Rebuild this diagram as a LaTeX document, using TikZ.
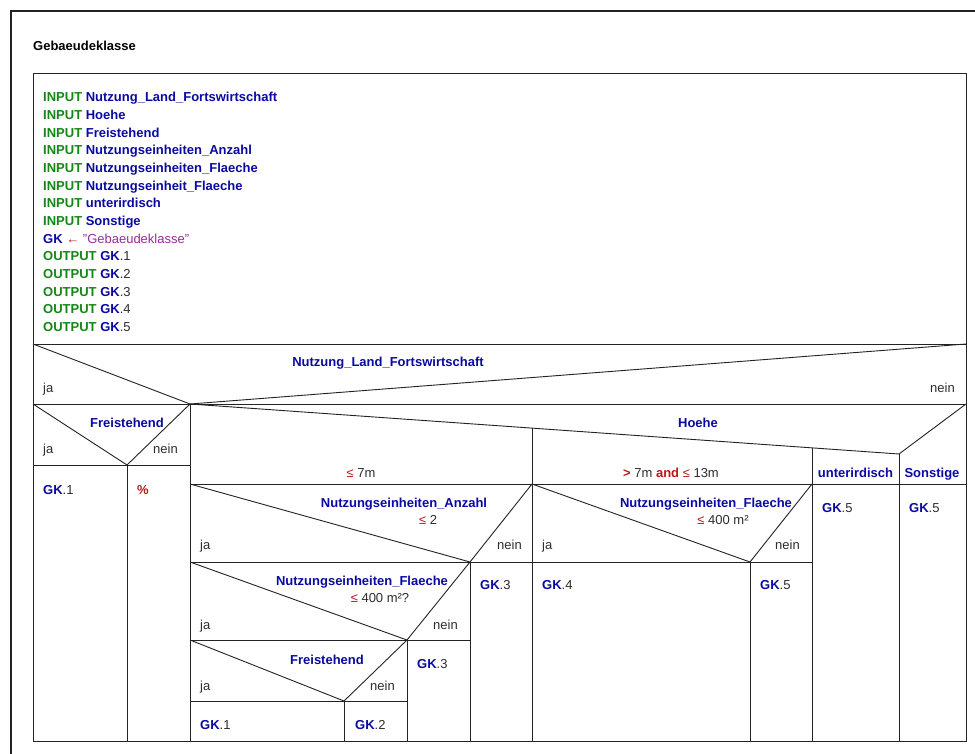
\documentclass[tikz,border=0pt]{standalone}
\usepackage{fontspec}
\setmainfont{Liberation Sans}
\definecolor{kw}{RGB}{20,135,20}
\definecolor{vr}{RGB}{10,10,160}
\definecolor{opc}{RGB}{185,25,25}
\definecolor{strc}{RGB}{150,45,150}
\definecolor{fg}{RGB}{45,45,45}
\definecolor{ln}{RGB}{35,35,35}
\newcommand{\mykw}[1]{{\bfseries\color{kw}#1}}
\newcommand{\myvar}[1]{{\bfseries\color{vr}#1}}
\newcommand{\myop}[1]{{\bfseries\color{opc}#1}}
\newcommand{\mystr}[1]{{\color{strc}#1}}
\tikzset{
  lbl/.style={anchor=base west, inner sep=0pt, text=fg, font=\fontsize{13}{15}\selectfont},
  clbl/.style={lbl, anchor=base},
  rlbl/.style={lbl, anchor=base east},
  frame/.style={line width=0.9pt, draw=ln},
}
\begin{document}
\begin{tikzpicture}[x=1pt,y=-1pt]
\useasboundingbox (0,0) rectangle (975,754);
\fill[white] (0,0) rectangle (975,754);
% outer frame
\draw[line width=1.6pt, draw=ln] (11,754) -- (11,11) -- (975,11);
\node[lbl, text=black, font=\fontsize{13}{15}\selectfont\bfseries] (title) at (33,51) {Gebaeudeklasse};
% inner box
\draw[frame] (33,73) rectangle (966,741);
% instruction block
\foreach \t [count=\i from 0] in {
  {\mykw{INPUT} \myvar{Nutzung\_Land\_Fortswirtschaft}},
  {\mykw{INPUT} \myvar{Hoehe}},
  {\mykw{INPUT} \myvar{Freistehend}},
  {\mykw{INPUT} \myvar{Nutzungseinheiten\_Anzahl}},
  {\mykw{INPUT} \myvar{Nutzungseinheiten\_Flaeche}},
  {\mykw{INPUT} \myvar{Nutzungseinheit\_Flaeche}},
  {\mykw{INPUT} \myvar{unterirdisch}},
  {\mykw{INPUT} \myvar{Sonstige}},
  {\myvar{GK} {\color{opc}\bfseries ←} \mystr{\symbol{34}Gebaeudeklasse\symbol{34}}},
  {\mykw{OUTPUT} \myvar{GK}.1},
  {\mykw{OUTPUT} \myvar{GK}.2},
  {\mykw{OUTPUT} \myvar{GK}.3},
  {\mykw{OUTPUT} \myvar{GK}.4},
  {\mykw{OUTPUT} \myvar{GK}.5}}
  \node[lbl] (line\i) at (43,102+17.65*\i) {\t};
% ---- Nutzung decision
\draw[frame] (33,344) -- (966,344);
\draw[frame] (33,404) -- (966,404);
\draw[frame] (33,344) -- (190,404) -- (966,344);
\node[clbl] (c1) at (388,366.5) {\myvar{Nutzung\_Land\_Fortswirtschaft}};
\node[lbl] (c1ja) at (43,392.5) {ja};
\node[rlbl] (c1nein) at (955,392.5) {nein};
% ---- Freistehend (left)
\draw[frame] (33,404) -- (127,465) -- (190,404);
\draw[frame] (33,465) -- (190,465);
\draw[frame] (127,465) -- (127,741);
\draw[frame] (190,404) -- (190,741);
\node[clbl] (c2) at (127,427.5) {\myvar{Freistehend}};
\node[lbl] (c2ja) at (43,453.5) {ja};
\node[rlbl] (c2nein) at (178,453.5) {nein};
\node[lbl] (gk1a) at (43,494.5) {\myvar{GK}.1};
\node[lbl] (pct) at (137,494.5) {\myop{\%}};
% ---- Hoehe case
\draw[frame] (190,404) -- (899,454) -- (966,404);
\draw[frame] (532,428.1) -- (532,741);
\draw[frame] (812,447.9) -- (812,741);
\draw[frame] (899,454) -- (899,741);
\draw[frame] (190,484) -- (966,484);
\node[clbl] (c3) at (698,427.5) {\myvar{Hoehe}};
\node[clbl] (k1) at (361,477) {{\color{opc}≤} 7m};
\node[clbl] (k2) at (671,477) {\myop{>} 7m \myop{and} {\color{opc}≤} 13m};
\node[clbl] (k3) at (855.5,477) {\myvar{unterirdisch}};
\node[clbl] (k4) at (932,477) {\myvar{Sonstige}};
\node[lbl] (gk5a) at (822,512.5) {\myvar{GK}.5};
\node[lbl] (gk5b) at (909,512.5) {\myvar{GK}.5};
% ---- Nutzungseinheiten_Anzahl
\draw[frame] (190,484) -- (470,562) -- (532,484);
\draw[frame] (190,562) -- (812,562);
\draw[frame] (470,562) -- (470,741);
\node[clbl] (c4) at (404,507.5) {\myvar{Nutzungseinheiten\_Anzahl}};
\node[clbl] (c4b) at (428,524.5) {{\color{opc}≤} 2};
\node[lbl] (c4ja) at (200,549.5) {ja};
\node[rlbl] (c4nein) at (522,549.5) {nein};
\node[lbl] (gk3a) at (480,589.5) {\myvar{GK}.3};
% ---- Nutzungseinheiten_Flaeche (left)
\draw[frame] (190,562) -- (407,640) -- (470,562);
\draw[frame] (190,640) -- (470,640);
\draw[frame] (407,640) -- (407,741);
\node[clbl] (c5) at (362,585.5) {\myvar{Nutzungseinheiten\_Flaeche}};
\node[clbl] (c5b) at (380,602.5) {{\color{opc}≤} 400 m²?};
\node[lbl] (c5ja) at (200,629.5) {ja};
\node[rlbl] (c5nein) at (458,629.5) {nein};
\node[lbl] (gk3b) at (417,668.5) {\myvar{GK}.3};
% ---- Freistehend (inner)
\draw[frame] (190,640) -- (344,701) -- (407,640);
\draw[frame] (190,701) -- (407,701);
\draw[frame] (344,701) -- (344,741);
\node[clbl] (c6) at (327,664.5) {\myvar{Freistehend}};
\node[lbl] (c6ja) at (200,690.5) {ja};
\node[rlbl] (c6nein) at (395,690.5) {nein};
\node[lbl] (gk1b) at (200,729.5) {\myvar{GK}.1};
\node[lbl] (gk2) at (355,729.5) {\myvar{GK}.2};
% ---- Nutzungseinheiten_Flaeche (right)
\draw[frame] (532,484) -- (750,562) -- (812,484);
\draw[frame] (750,562) -- (750,741);
\node[clbl] (c7) at (706,507.5) {\myvar{Nutzungseinheiten\_Flaeche}};
\node[clbl] (c7b) at (723,524.5) {{\color{opc}≤} 400 m²};
\node[lbl] (c7ja) at (542,549.5) {ja};
\node[rlbl] (c7nein) at (800,549.5) {nein};
\node[lbl] (gk4) at (542,589.5) {\myvar{GK}.4};
\node[lbl] (gk5c) at (760,589.5) {\myvar{GK}.5};
\end{tikzpicture}
\end{document}
